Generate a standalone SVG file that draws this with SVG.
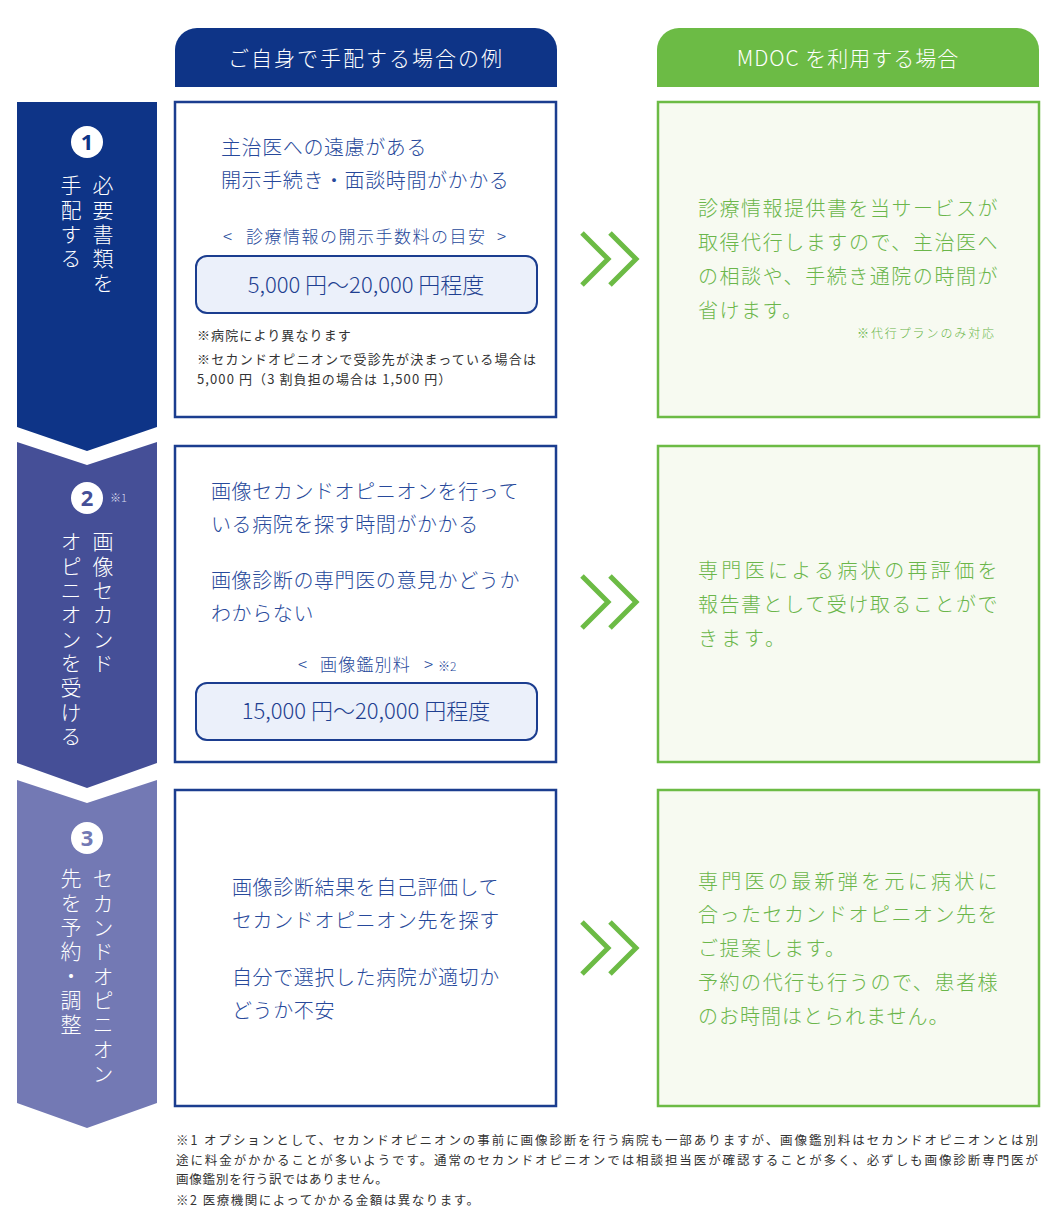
<svg xmlns="http://www.w3.org/2000/svg" width="1046" height="1229" viewBox="0 0 1046 1229">
<style>
  text { font-family: "Noto Sans CJK JP", "Noto Sans", sans-serif; font-weight: 300; }
  .hdr { font-size: 21px; fill: #ffffff; text-anchor: middle; }
  .vt { font-size: 21px; fill: #ffffff; writing-mode: vertical-rl; text-orientation: upright; letter-spacing: 3.3px; }
  .num { font-size: 22px; font-weight: bold; text-anchor: middle; font-family: "Noto Sans", sans-serif; }
  .lbox { fill: #ffffff; stroke: #1b3d8f; stroke-width: 2.5; }
  .rbox { fill: #f7faf1; stroke: #6cbb45; stroke-width: 2.5; }
  .fee { fill: #ebf0fa; stroke: #1b3d8f; stroke-width: 2; }
  .lt { font-size: 20px; fill: #27499b; letter-spacing: 0.6px; }
  .sub { font-size: 17px; fill: #27499b; }
  .feet { font-size: 22px; fill: #1f3f90; text-anchor: middle; }
  .note { font-size: 13px; fill: #333333; letter-spacing: 1.1px; font-weight: 400; }
  .rt { font-size: 20px; fill: #6ab64a; letter-spacing: 1.5px; }
  .rnote { font-size: 12px; fill: #6ab64a; letter-spacing: 1.9px; }
  .foot { font-size: 12.5px; fill: #333333; font-weight: 400; }
  .chev { fill: none; stroke: #6cbb45; stroke-width: 5; stroke-linecap: butt; stroke-linejoin: miter; }
</style>

<!-- Column headers -->
<g id="header-self">
  <path d="M175,87 V50 A22,22 0 0 1 197,28 H535 A22,22 0 0 1 557,50 V87 Z" fill="#0e3487"/>
  <text class="hdr" x="366" y="66" style="letter-spacing:2px">ご自身で手配する場合の例</text>
</g>
<g id="header-mdoc">
  <path d="M657,87 V50 A22,22 0 0 1 679,28 H1017 A22,22 0 0 1 1039,50 V87 Z" fill="#6cbb45"/>
  <text class="hdr" x="848" y="66" style="letter-spacing:1px">MDOC を利用する場合</text>
</g>

<!-- Step banners -->
<g id="step1">
  <polygon points="17,102 157,102 157,427 87,451 17,427" fill="#0e3487"/>
  <circle cx="87" cy="142" r="16" fill="#ffffff"/>
  <text class="num" x="87" y="150" fill="#0e3487">1</text>
  <text class="vt" x="103" y="175">必要書類を</text>
  <text class="vt" x="71" y="175">手配する</text>
</g>
<g id="step2">
  <polygon points="17,442 87,465 157,442 157,763 87,788 17,763" fill="#454f97"/>
  <circle cx="87" cy="498" r="16" fill="#ffffff"/>
  <text class="num" x="87" y="506" fill="#454f97">2</text>
  <text x="110" y="502" style="font-size:11px;fill:#d5d8ec">※1</text>
  <text class="vt" x="103" y="531">画像セカンド</text>
  <text class="vt" x="71" y="531">オピニオンを受ける</text>
</g>
<g id="step3">
  <polygon points="17,780 87,803 157,780 157,1103 87,1128 17,1103" fill="#7379b4"/>
  <circle cx="87" cy="838" r="16" fill="#ffffff"/>
  <text class="num" x="87" y="846" fill="#7379b4">3</text>
  <text class="vt" x="103" y="868">セカンドオピニオン</text>
  <text class="vt" x="71" y="868">先を予約・調整</text>
</g>

<!-- Left boxes: self arrangement -->
<g id="self1">
  <rect class="lbox" x="175" y="102" width="381" height="315"/>
  <text class="lt" x="221" y="155">主治医への遠慮がある</text>
  <text class="lt" x="221" y="188">開示手続き・面談時間がかかる</text>
  <text class="sub"><tspan x="223" y="243">&lt;</tspan><tspan x="246" y="243" textLength="239" lengthAdjust="spacing">診療情報の開示手数料の目安</tspan><tspan x="497" y="243">&gt;</tspan></text>
  <rect class="fee" x="196" y="256" width="341" height="57" rx="11"/>
  <text class="feet" x="366" y="293">5,000 円〜20,000 円程度</text>
  <text class="note" x="197" y="340">※病院により異なります</text>
  <text class="note" x="197" y="364" textLength="340" lengthAdjust="spacing">※セカンドオピニオンで受診先が決まっている場合は</text>
  <text class="note" x="197" y="384">5,000 円（3 割負担の場合は 1,500 円）</text>
</g>
<g id="self2">
  <rect class="lbox" x="175" y="446" width="381" height="316"/>
  <text class="lt" x="211" y="499">画像セカンドオピニオンを行って</text>
  <text class="lt" x="211" y="532">いる病院を探す時間がかかる</text>
  <text class="lt" x="211" y="588">画像診断の専門医の意見かどうか</text>
  <text class="lt" x="211" y="621">わからない</text>
  <text class="sub"><tspan x="298" y="671">&lt;</tspan><tspan x="320" y="671" style="letter-spacing:1.2px">画像鑑別料</tspan><tspan x="424" y="671">&gt;</tspan><tspan x="438" y="671" style="font-size:12px">※2</tspan></text>
  <rect class="fee" x="196" y="683" width="341" height="57" rx="11"/>
  <text class="feet" x="366" y="719">15,000 円〜20,000 円程度</text>
</g>
<g id="self3">
  <rect class="lbox" x="175" y="790" width="381" height="316"/>
  <text class="lt" x="232" y="895">画像診断結果を自己評価して</text>
  <text class="lt" x="232" y="928">セカンドオピニオン先を探す</text>
  <text class="lt" x="232" y="985">自分で選択した病院が適切か</text>
  <text class="lt" x="232" y="1018">どうか不安</text>
</g>

<!-- Right boxes: MDOC -->
<g id="mdoc1">
  <rect class="rbox" x="658" y="102" width="381" height="315"/>
  <text class="rt" x="698" y="216" textLength="301" lengthAdjust="spacing">診療情報提供書を当サービスが</text>
  <text class="rt" x="698" y="250" textLength="301" lengthAdjust="spacing">取得代行しますので、主治医へ</text>
  <text class="rt" x="698" y="284" textLength="301" lengthAdjust="spacing">の相談や、手続き通院の時間が</text>
  <text class="rt" x="698" y="318">省けます。</text>
  <text class="rnote" x="857" y="338">※代行プランのみ対応</text>
</g>
<g id="mdoc2">
  <rect class="rbox" x="658" y="446" width="381" height="316"/>
  <text class="rt" x="698" y="578" textLength="301" lengthAdjust="spacing">専門医による病状の再評価を</text>
  <text class="rt" x="698" y="612" textLength="301" lengthAdjust="spacing">報告書として受け取ることがで</text>
  <text class="rt" x="698" y="646" style="letter-spacing:3px">きます。</text>
</g>
<g id="mdoc3">
  <rect class="rbox" x="658" y="790" width="381" height="316"/>
  <text class="rt" x="698" y="889" textLength="301" lengthAdjust="spacing">専門医の最新弾を元に病状に</text>
  <text class="rt" x="698" y="922" textLength="301" lengthAdjust="spacing">合ったセカンドオピニオン先を</text>
  <text class="rt" x="698" y="956">ご提案します。</text>
  <text class="rt" x="698" y="990" textLength="301" lengthAdjust="spacing">予約の代行も行うので、患者様</text>
  <text class="rt" x="698" y="1024" style="letter-spacing:1px">のお時間はとられません。</text>
</g>

<!-- Connectors: double chevrons -->
<g id="connectors">
  <polyline class="chev" points="582,233 608,259 582,285"/>
  <polyline class="chev" points="610,233 636,259 610,285"/>
  <polyline class="chev" points="582,576 608,602 582,628"/>
  <polyline class="chev" points="610,576 636,602 610,628"/>
  <polyline class="chev" points="582,922 608,948 582,974"/>
  <polyline class="chev" points="610,922 636,948 610,974"/>
</g>

<!-- Footnotes -->
<g id="footnotes">
  <text class="foot" x="176" y="1145" textLength="862" lengthAdjust="spacing">※1 オプションとして、セカンドオピニオンの事前に画像診断を行う病院も一部ありますが、画像鑑別料はセカンドオピニオンとは別</text>
  <text class="foot" x="176" y="1165" textLength="862" lengthAdjust="spacing">途に料金がかかることが多いようです。通常のセカンドオピニオンでは相談担当医が確認することが多く、必ずしも画像診断専門医が</text>
  <text class="foot" x="176" y="1184" style="letter-spacing:0.8px">画像鑑別を行う訳ではありません。</text>
  <text class="foot" x="176" y="1205" style="letter-spacing:1.5px">※2 医療機関によってかかる金額は異なります。</text>
</g>
</svg>
